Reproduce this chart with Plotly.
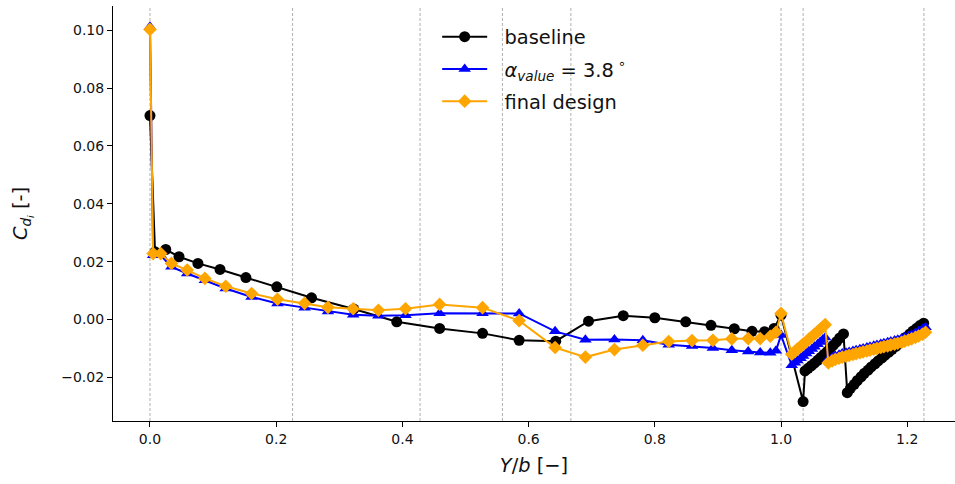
import plotly.graph_objects as go

# Spanwise stations (Y/b) and induced drag coefficient per design
base_x = [0.0, 0.008, 0.025, 0.046, 0.076, 0.111, 0.152, 0.201, 0.256, 0.323, 0.391, 0.459,
          0.527, 0.585, 0.643, 0.695, 0.750, 0.800, 0.849, 0.889, 0.926, 0.954, 0.974, 0.989,
          1.000, 1.035,
          1.038, 1.043, 1.048, 1.053, 1.058, 1.063, 1.068, 1.073, 1.078, 1.083, 1.088, 1.093, 1.099,
          1.105, 1.110, 1.116, 1.121, 1.127, 1.132, 1.138, 1.143, 1.149, 1.154, 1.160, 1.165,
          1.171, 1.176, 1.182, 1.187, 1.193, 1.198, 1.204, 1.209, 1.215, 1.220, 1.226]
base_cdi = [0.0705, 0.0234, 0.0242, 0.0217, 0.0194, 0.0173, 0.0145, 0.0113, 0.0075, 0.0036, -0.0008, -0.0031,
            -0.0048, -0.0072, -0.0075, -0.0006, 0.0013, 0.0006, -0.0008, -0.0020, -0.0032, -0.0041, -0.0042, -0.0031,
            0.0015, -0.0284,
            -0.0178, -0.0169, -0.0160, -0.0151, -0.0141, -0.0131, -0.0121, -0.0111, -0.0100, -0.0089, -0.0077, -0.0064, -0.0050,
            -0.0253, -0.0238, -0.0224, -0.0211, -0.0198, -0.0186, -0.0175, -0.0164, -0.0153, -0.0143, -0.0133, -0.0123,
            -0.0113, -0.0103, -0.0093, -0.0083, -0.0072, -0.0061, -0.0050, -0.0040, -0.0030, -0.0021, -0.0013]

design_x = [0.0, 0.005, 0.017, 0.034, 0.059, 0.087, 0.120, 0.161, 0.202, 0.245, 0.282, 0.322,
            0.362, 0.405, 0.459, 0.527, 0.585, 0.642, 0.690, 0.736, 0.781, 0.822, 0.859, 0.892,
            0.922, 0.948, 0.967, 0.983, 0.992, 1.000,
            1.017, 1.022, 1.026, 1.031, 1.035, 1.040, 1.044, 1.049, 1.053, 1.058, 1.062, 1.066, 1.070,
            1.075, 1.081, 1.086, 1.092, 1.097, 1.103, 1.108, 1.114, 1.119, 1.125, 1.130, 1.136,
            1.141, 1.147, 1.152, 1.158, 1.163, 1.169, 1.174, 1.180, 1.185, 1.191, 1.196, 1.202,
            1.207, 1.213, 1.218, 1.224, 1.229]
alpha_cdi = [0.1012, 0.0222, 0.0222, 0.0182, 0.0159, 0.0136, 0.0107, 0.0078, 0.0055, 0.0041, 0.0028, 0.0016,
             0.0013, 0.0015, 0.0022, 0.0022, 0.0021, -0.0041, -0.0070, -0.0069, -0.0072, -0.0087, -0.0092, -0.0099,
             -0.0106, -0.0111, -0.0114, -0.0115, -0.0108, -0.0054,
             -0.0158, -0.0150, -0.0142, -0.0134, -0.0126, -0.0118, -0.0110, -0.0102, -0.0094, -0.0086, -0.0078, -0.0070, -0.0062,
             -0.0137, -0.0131, -0.0126, -0.0122, -0.0118, -0.0115, -0.0112, -0.0109, -0.0106, -0.0103, -0.0100, -0.0097,
             -0.0094, -0.0091, -0.0088, -0.0085, -0.0082, -0.0079, -0.0076, -0.0073, -0.0070, -0.0066, -0.0062, -0.0058,
             -0.0053, -0.0047, -0.0041, -0.0034, -0.0027]
final_cdi = [0.1003, 0.0228, 0.0228, 0.0194, 0.0171, 0.0142, 0.0115, 0.0090, 0.0070, 0.0056, 0.0042, 0.0037,
             0.0032, 0.0037, 0.0052, 0.0041, -0.0004, -0.0097, -0.0130, -0.0104, -0.0089, -0.0076, -0.0073, -0.0072,
             -0.0067, -0.0066, -0.0066, -0.0058, -0.0044, 0.0021,
             -0.0120, -0.0111, -0.0102, -0.0094, -0.0085, -0.0077, -0.0068, -0.0060, -0.0051, -0.0042, -0.0034, -0.0026, -0.0018,
             -0.0150, -0.0143, -0.0138, -0.0134, -0.0130, -0.0127, -0.0124, -0.0121, -0.0118, -0.0115, -0.0112, -0.0109,
             -0.0106, -0.0103, -0.0100, -0.0097, -0.0094, -0.0091, -0.0088, -0.0085, -0.0082, -0.0079, -0.0075, -0.0071,
             -0.0067, -0.0062, -0.0057, -0.0051, -0.0044]

# Section boundaries along the span
section_edges = [0.0, 0.226, 0.428, 0.5585, 0.667, 1.0, 1.035, 1.2265]

x_ticks = [0.0, 0.2, 0.4, 0.6, 0.8, 1.0, 1.2]
y_ticks = [-0.02, 0.0, 0.02, 0.04, 0.06, 0.08, 0.10]

FONT = "DejaVu Sans"
TEXT = "#111111"
PAD = "\u00a0\u00a0"  # gap between legend symbol and label

fig = go.Figure()
fig.add_trace(go.Scatter(
    x=base_x, y=base_cdi, mode="lines+markers", name=PAD + "baseline", legendgroup="a",
    line=dict(color="black", width=2),
    marker=dict(symbol="circle", size=11, color="black"),
))
fig.add_trace(go.Scatter(
    x=design_x, y=alpha_cdi, mode="lines+markers", legendgroup="b",
    name=PAD + "<i>α</i><sub><i>value</i></sub> = 3.8\u2009<sup>∘</sup>",
    line=dict(color="#0000ff", width=2),
    marker=dict(symbol="triangle-up", size=11, color="#0000ff"),
))
fig.add_trace(go.Scatter(
    x=design_x, y=final_cdi, mode="lines+markers", name=PAD + "final design", legendgroup="c",
    line=dict(color="#ffa500", width=2),
    marker=dict(symbol="diamond", size=10.5, color="#ffa500"),
))

for xe in section_edges:
    fig.add_vline(x=xe, line=dict(color="#9a9a9a", width=0.8, dash="3px,2px"), layer="below")

fig.update_layout(
    width=955, height=484,
    margin=dict(l=113, r=0, t=6, b=63),
    paper_bgcolor="white", plot_bgcolor="white",
    font=dict(family=FONT, size=14, color=TEXT),
    showlegend=True,
    legend=dict(
        x=0.385, y=0.972, xanchor="left", yanchor="top",
        bgcolor="rgba(0,0,0,0)", borderwidth=0,
        font=dict(family=FONT, size=19.4, color=TEXT),
        itemwidth=45, tracegroupgap=4,
    ),
)
fig.update_xaxes(
    range=[-0.0586, 1.2757], tickvals=x_ticks, tickformat=".1f",
    showgrid=False, zeroline=False,
    showline=True, linecolor="black", linewidth=1.1, mirror=False,
    ticks="outside", ticklen=5, tickwidth=1.1, tickcolor="black",
    tickfont=dict(family=FONT, size=14, color=TEXT),
    title=dict(text="<i>Y</i>/<i>b</i> [−]", font=dict(family=FONT, size=19.4, color=TEXT), standoff=12),
)
fig.update_yaxes(
    range=[-0.0351, 0.1084], tickvals=y_ticks, tickformat=".2f",
    showgrid=False, zeroline=False,
    showline=True, linecolor="black", linewidth=1.1, mirror=False,
    ticks="outside", ticklen=5, tickwidth=1.1, tickcolor="black",
    tickfont=dict(family=FONT, size=14, color=TEXT),
    title=dict(text="<i>C</i><sub><i>d<sub>i</sub></i></sub> [-]", font=dict(family=FONT, size=19.4, color=TEXT), standoff=28),
)

fig.write_html("out.html")
